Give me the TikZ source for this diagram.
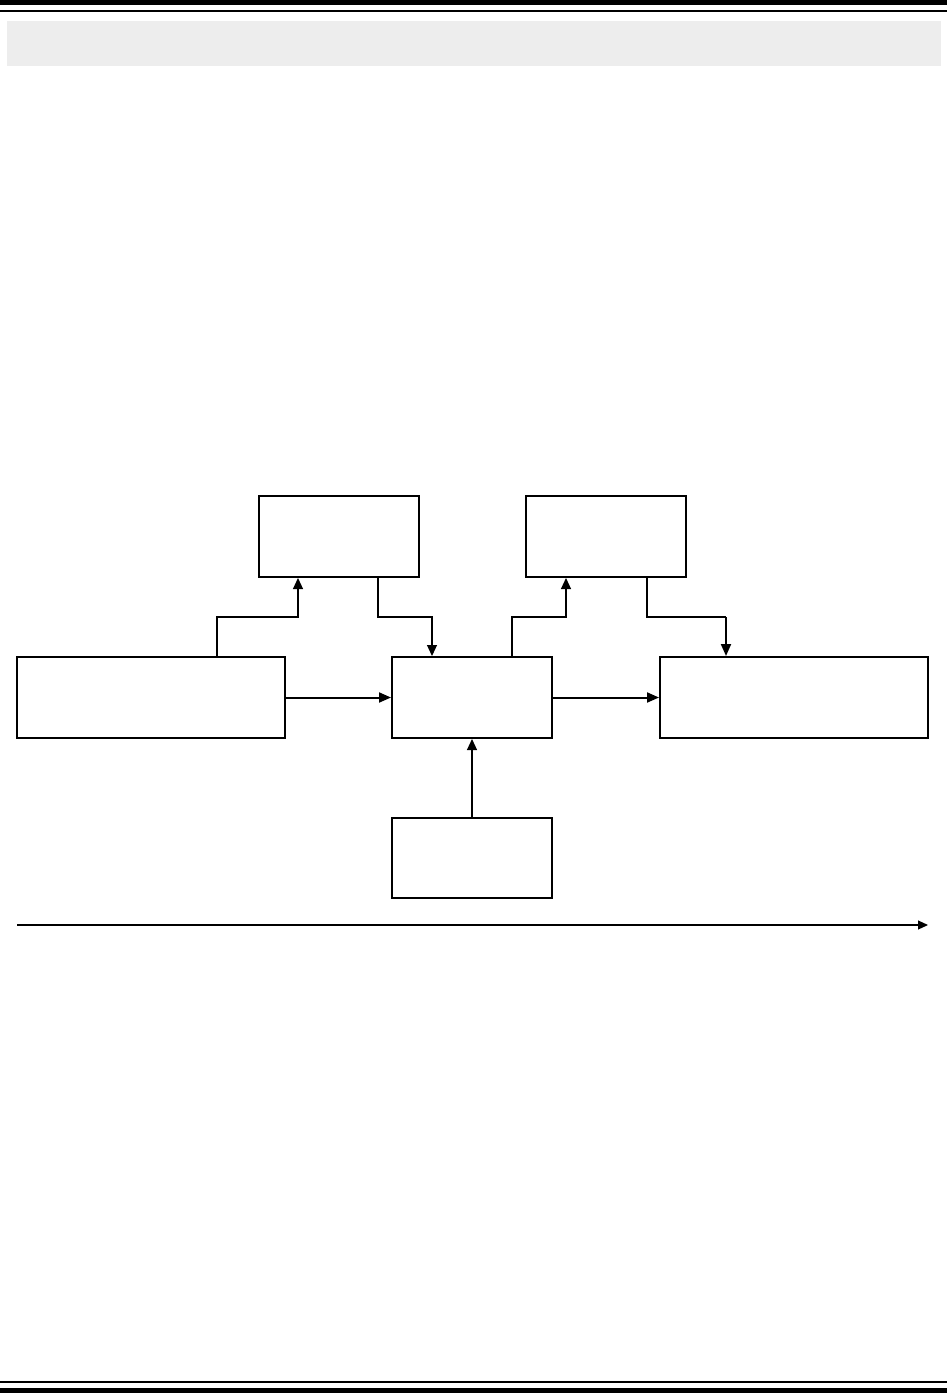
\documentclass[tikz,border=0pt]{standalone}
\usetikzlibrary{arrows.meta}
\begin{document}
\begin{tikzpicture}[x=1pt,y=-1pt,
  blk/.style={draw=black,line width=2pt,fill=white,inner sep=0pt},
  thinarrow/.style={draw=black,line width=1.1pt,-{Triangle[length=11pt,width=10pt]}},
  thickarrow/.style={draw=black,line width=2pt,-{Triangle[length=12pt,width=10pt]}},
  axisarrow/.style={draw=black,line width=1.1pt,-{Triangle[length=10pt,width=9pt]}}]
\useasboundingbox (0,0) rectangle (947,1393);
% header / footer rules
\fill[black] (0,0) rectangle (947,5);
\fill[black] (0,10) rectangle (947,12);
\fill[black!7] (7,21) rectangle (941,66);
\fill[black] (0,1381) rectangle (947,1383);
\fill[black] (0,1388) rectangle (947,1393);
% boxes
\node[blk,minimum width=160pt,minimum height=81pt] (A) at (338.5,536.5) {};
\node[blk,minimum width=160pt,minimum height=81pt] (B) at (606,536.5) {};
\node[blk,minimum width=268pt,minimum height=81pt] (L) at (151,697.5) {};
\node[blk,minimum width=160pt,minimum height=81pt] (C) at (472,697.5) {};
\node[blk,minimum width=268pt,minimum height=81pt] (R) at (794,697.5) {};
\node[blk,minimum width=160pt,minimum height=80pt] (D) at (472,858) {};
% connectors
\draw[thinarrow] (L.north -| 217,0) |- (298,617) -- (A.south -| 298,0);
\draw[thinarrow] (A.south -| 378,0) |- (432,617) -- (C.north -| 432,0);
\draw[thinarrow] (C.north -| 512,0) |- (566,617) -- (B.south -| 566,0);
\draw[line width=1.1pt] (B.south -| 647,0) |- (726,617);
\draw[thickarrow] (726,617) -- (R.north -| 726,0);
\draw[thickarrow] (L.east) -- (C.west);
\draw[thickarrow] (C.east) -- (R.west);
\draw[thinarrow] (D.north) -- (C.south);
% time axis
\coordinate (t0) at (17,925);
\coordinate (t1) at (928,925);
\draw[axisarrow] (t0) -- (t1);
\end{tikzpicture}
\end{document}
